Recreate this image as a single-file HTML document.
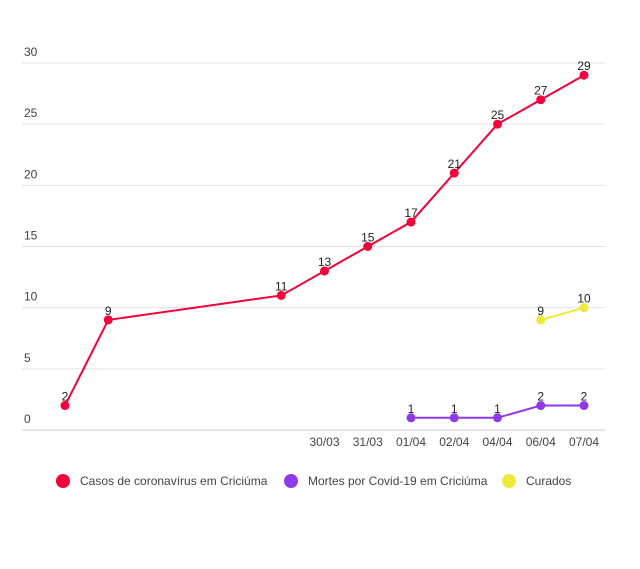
<!DOCTYPE html>
<html><head><meta charset="utf-8"><style>
body{margin:0;background:#fff;font-family:"Liberation Sans",sans-serif}
</style></head><body>
<svg width="640" height="564" id="c" xmlns="http://www.w3.org/2000/svg" font-family="Liberation Sans, sans-serif">
<g id="grid"></g>
<g id="marks"></g>
<g font-size="12" fill="#444">
 <g><circle cx="63" cy="481" r="7" fill="#f5003a"/><text x="80" y="485">Casos de coronavírus em Criciúma</text></g>
 <g><circle cx="291" cy="481" r="7" fill="#8e3ae8"/><text x="308" y="485">Mortes por Covid-19 em Criciúma</text></g>
 <g><circle cx="509" cy="481" r="7" fill="#eeea3a"/><text x="526" y="485">Curados</text></g>
</g>
</svg>
<script>
const categories=["","","","","","","30/03","31/03","01/04","02/04","04/04","06/04","07/04"];
const casos=[2,9,null,null,null,11,13,15,17,21,25,27,29];
const mortes=[null,null,null,null,null,null,null,null,1,1,1,2,2];
const curados=[null,null,null,null,null,null,null,null,null,null,null,9,10];
const yTicks=[0,5,10,15,20,25,30];
const NS="http://www.w3.org/2000/svg";
const x=i=>65+i*(584-65)/(categories.length-1);
const y=v=>430-v*(430-63)/30;
function mk(tag,attrs,parent){const e=document.createElementNS(NS,tag);for(const k in attrs)e.setAttribute(k,attrs[k]);parent.appendChild(e);return e;}
const grid=document.getElementById('grid'),marks=document.getElementById('marks');
yTicks.forEach(v=>{
 const l=mk('line',{x1:22,x2:605,y1:y(v),y2:y(v),stroke:v===0?'#ccc':'#e2e2e2','stroke-width':1},grid);
 
 
 const t=mk('text',{x:24,y:y(v)-7,'font-size':12,fill:'#444'},grid);t.textContent=v;
 
 
});
categories.forEach((c,i)=>{if(!c)return;
 const t=mk('text',{x:x(i),y:446,'font-size':12,fill:'#444','text-anchor':'middle'},grid);t.textContent=c;
 
 
});
function series(data,color,name){
 const g=mk('g',{},marks);
 
 
 let d='';data.forEach((v,i)=>{if(v==null)return;d+=(d?'L':'M')+x(i)+','+y(v);});
 const p=mk('path',{d:d,fill:'none',stroke:color,'stroke-width':2},g);
 
 
 data.forEach((v,i)=>{if(v==null)return;
  const c=mk('circle',{cx:x(i),cy:y(v),r:4.5,fill:color},g);
  
  
  const t=mk('text',{x:x(i),y:y(v)-5,'font-size':12,fill:'#222','text-anchor':'middle'},g);t.textContent=v;
  
  
 });
}
series(casos,'#f5003a','casos');
series(mortes,'#8e3ae8','mortes');
series(curados,'#eeea3a','curados');
</script>
</body></html>
